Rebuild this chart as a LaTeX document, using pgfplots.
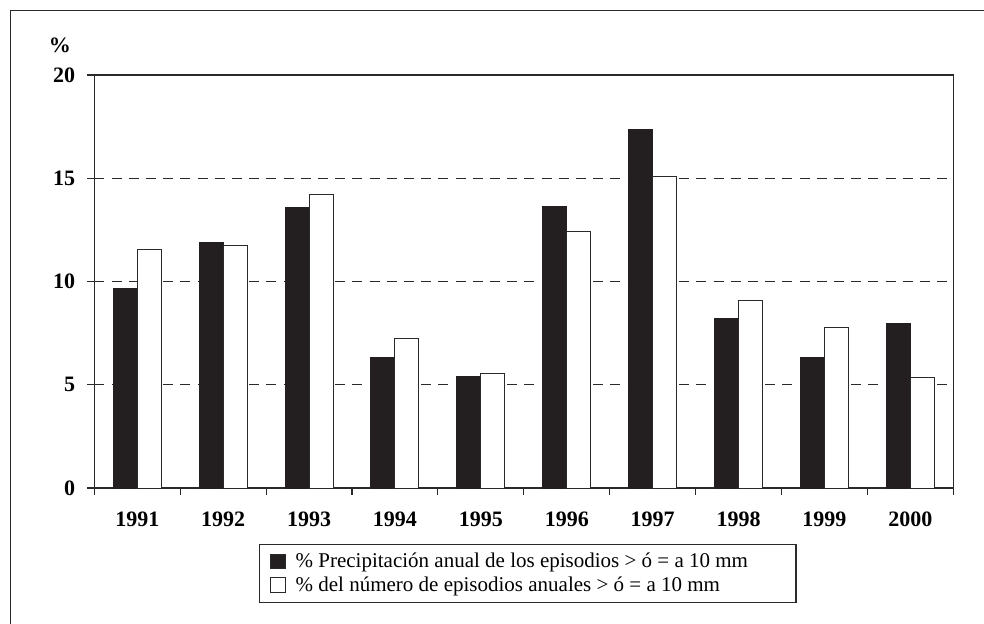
\documentclass[border=0pt]{standalone}
\usepackage{pgfplots}
\pgfplotsset{compat=1.18}
\usepackage{fontspec}
\setmainfont{Liberation Serif}
\definecolor{barblack}{HTML}{231F20}
\definecolor{linegray}{HTML}{2A2A2A}
\begin{document}
\begin{tikzpicture}
\begin{axis}[
  at={(0,0)}, anchor=south west,
  scale only axis, width=429.5pt, height=206.5pt,
  xmin=-0.5, xmax=9.5, ymin=0, ymax=20,
  ybar=0pt, bar width=12pt,
  xtick={-0.5,0.5,1.5,2.5,3.5,4.5,5.5,6.5,7.5,8.5,9.5},
  xticklabels={},
  extra x ticks={0,1,2,3,4,5,6,7,8,9},
  extra x tick labels={1991,1992,1993,1994,1995,1996,1997,1998,1999,2000},
  extra x tick style={major tick length=0pt, grid=none,
    xticklabel style={yshift=-8.5pt}},
  ytick={0,5,10,15,20},
  yticklabel style={xshift=-2.5pt},
  tick align=outside, major tick length=3.5pt,
  xtick pos=lower, ytick pos=left,
  ymajorgrids,
  grid style={linegray, line width=0.6pt, dash pattern=on 5pt off 3.6pt},
  axis line style={linegray, line width=0.55pt},
  tick style={linegray, line width=0.55pt},
  /pgf/number format/assume math mode=true,
  ticklabel style={font=\bfseries\fontsize{11}{13}\selectfont},
  legend style={at={(0.1921,-0.1363)}, anchor=north west,
    draw=linegray, line width=0.55pt,
    font=\fontsize{10.5}{11.5}\selectfont,
    inner xsep=5pt, inner ysep=2pt,
    row sep=-1pt},
  legend cell align=left,
  legend image code/.code={\draw[#1, draw=linegray, line width=0.5pt] (0pt,-3.6pt) rectangle (7.4pt,3.8pt);},
]
\addplot[fill=barblack, draw=barblack, line width=0.5pt] coordinates {
  (0,9.67) (1,11.91) (2,13.56) (3,6.33) (4,5.38) (5,13.64) (6,17.34) (7,8.22) (8,6.33) (9,7.96)};
\addlegendentry{\hspace*{3pt}\% Precipitación anual de los episodios > ó = a 10 mm\hspace*{17pt}\mbox{}}
\addplot[fill=white, draw=linegray, line width=0.5pt] coordinates {
  (0,11.54) (1,11.73) (2,14.22) (3,7.25) (4,5.54) (5,12.41) (6,15.08) (7,9.07) (8,7.78) (9,5.34)};
\addlegendentry{\hspace*{3pt}\% del número de episodios anuales > ó = a 10 mm}
\end{axis}
\node[font=\bfseries\fontsize{11}{13}\selectfont] at (-17.15pt,221.5pt) {\%};
\draw[linegray, line width=0.5pt] (-41.65pt,-80pt) -- (-41.65pt,238.65pt) -- (460pt,238.65pt);
\pgfresetboundingbox
\useasboundingbox (-47.15pt,-67.5pt) rectangle (444.85pt,244pt);
\end{tikzpicture}
\end{document}
